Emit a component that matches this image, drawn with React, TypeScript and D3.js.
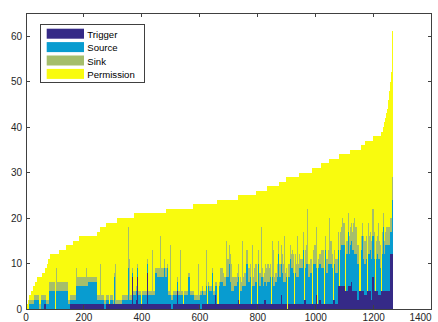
import React, { useEffect, useRef } from "react";
import * as d3 from "d3";

// series names and colours (MATLAB parula, 4 stacked series)
const seriesNames = ["Trigger", "Source", "Sink", "Permission"];
const seriesColors = ["#352a87", "#089cd0", "#a5be6b", "#f9fb0e"];

// run-length data: [value, number of bars], apps sorted by total
const totalRuns: [number, number][] = [
  [1, 5], [2, 6], [3, 6], [4, 6], [5, 7], [6, 9], [7, 17], [8, 8], [9, 7], [10, 6], [11, 5],
  [12, 32], [13, 23], [14, 23], [15, 23], [16, 60], [17, 12], [18, 22], [19, 36], [20, 58],
  [21, 110], [22, 95], [23, 83], [24, 72], [25, 61], [26, 39], [27, 42], [28, 23], [29, 46],
  [30, 44], [31, 32], [32, 27], [33, 34], [34, 38], [35, 37], [36, 16], [37, 26], [38, 28],
  [39, 7], [40, 5], [41, 3], [42, 3], [43, 2], [44, 3], [45, 2], [46, 2], [47, 2], [48, 1],
  [49, 2], [50, 2], [51, 1], [52, 2], [54, 1], [56, 1], [58, 1], [61, 2],
];

const triggerRuns: [number, number][] = [
  [0, 60], [1, 8], [0, 82], [1, 120], [0, 6], [1, 104], [2, 6], [1, 114], [0, 6], [1, 94],
  [0, 6], [1, 124], [2, 6], [1, 84], [2, 6], [1, 74], [0, 4], [1, 56], [2, 6], [1, 44],
  [2, 6], [1, 44], [2, 6], [1, 10], [5, 24], [4, 10], [5, 15], [4, 15], [2, 10], [4, 15],
  [3, 10], [4, 15], [2, 10], [4, 15], [3, 10], [4, 15], [4, 16], [12, 10],
];

const sourceRuns: [number, number][] = [
  [0, 10], [1, 18], [2, 17], [0, 5], [2, 12], [1, 17], [4, 21], [0, 4], [4, 39], [1, 28],
  [4, 41], [5, 34], [1, 54], [0, 30], [1, 40], [2, 81], [6, 35], [2, 23], [2, 69], [1, 22],
  [3, 12], [2, 8], [4, 10], [3, 15], [2, 10], [4, 15],
  [5, 10], [4, 8], [6, 12], [5, 8], [3, 8],
  [4, 12], [5, 8], [3, 10], [4, 16],
  [5, 10], [6, 8], [4, 10], [5, 10],
  [4, 10], [6, 8], [4, 12],
  [5, 12], [6, 10], [4, 6], [5, 8],
  [6, 12], [7, 10], [5, 8], [6, 14], [8, 10],
  [7, 12], [6, 10], [8, 14], [7, 10], [9, 8], [6, 7],
  [7, 10], [9, 9], [6, 8], [8, 12],
  [8, 12], [7, 10], [9, 14], [8, 10], [7, 10],
  [8, 12], [9, 12],
  [8, 10], [7, 8], [9, 12], [8, 10],
  [8, 12], [9, 10], [7, 12], [8, 14], [9, 12],
  [7, 10], [8, 10], [6, 8], [8, 12],
  [10, 16], [5, 7], [12, 3],
];

const sinkRuns: [number, number][] = [
  [0, 10], [1, 18], [1, 34], [1, 17], [2, 64], [1, 28], [2, 41], [1, 34], [1, 124], [1, 81],
  [2, 35], [1, 114], [1, 70],
  [3, 12], [2, 10], [4, 12], [3, 12],
  [2, 14], [3, 10], [2, 12], [3, 10],
  [3, 14], [2, 10], [4, 12], [3, 16], [2, 10], [4, 14], [3, 14], [2, 14],
  [3, 14], [4, 12], [2, 10], [3, 16], [4, 12], [3, 14], [2, 10], [4, 14], [3, 13],
  [3, 14], [4, 12], [2, 10], [4, 16], [3, 14], [5, 10], [3, 19],
  [4, 14], [5, 12], [3, 10], [4, 16], [6, 12], [4, 14], [3, 10], [5, 16], [4, 14], [6, 12],
  [4, 14], [5, 12], [3, 10], [4, 14],
  [3, 7], [5, 3],
];

// thin spikes: [first bar, bars, value]
const triggerSpikes: [number, number, number][] = [
  [365, 4, 7], [382, 4, 7], [417, 4, 8], [520, 4, 4], [650, 4, 3], [880, 4, 3], [1000, 4, 3],
  [1120, 4, 6], [1195, 4, 7],
];
const sourceSpikes: [number, number, number][] = [
  [304, 4, 6], [350, 4, 8], [446, 4, 7], [474, 4, 8], [486, 4, 8], [560, 4, 6], [640, 4, 7],
  [700, 4, 9], [760, 4, 9], [800, 4, 9], [870, 4, 11], [910, 4, 10], [955, 4, 12],
  [1030, 4, 12], [1110, 4, 12], [1160, 4, 12], [1230, 4, 14],
];
const sinkSpikes: [number, number, number][] = [
  [102, 4, 5], [171, 4, 4], [206, 4, 4], [255, 4, 8], [307, 4, 9], [353, 4, 9], [434, 4, 10],
  [463, 4, 9], [497, 4, 11], [532, 4, 10], [592, 4, 8], [620, 4, 8], [690, 4, 8], [705, 4, 6],
  [745, 4, 10], [780, 4, 9], [810, 4, 11], [850, 4, 8], [890, 4, 10], [935, 4, 9], [970, 4, 12],
  [1000, 4, 9], [1045, 4, 10], [1090, 4, 6], [1130, 4, 8], [1180, 4, 7], [1215, 4, 8],
];
// bars where only permission shows above trigger: [first bar, bars]
const gaps: [number, number][] = [
  [100, 4], [285, 4], [395, 4], [540, 4], [625, 4], [660, 4], [735, 4], [775, 4], [795, 4],
  [845, 4], [900, 4], [925, 4], [958, 4], [985, 4], [1004, 4], [1027, 4], [1060, 4],
  [1079, 4], [1100, 4], [1150, 4], [1175, 4], [1205, 4], [1225, 4],
];

const xTicks = [0, 200, 400, 600, 800, 1000, 1200, 1400];
const yTicks = [0, 10, 20, 30, 40, 50, 60];

const expand = (runs: [number, number][]) =>
  runs.flatMap(([v, n]) => Array(n).fill(v) as number[]);

const applySpikes = (arr: number[], spikes: [number, number, number][]) => {
  spikes.forEach(([s, n, v]) => {
    for (let i = s; i < s + n && i < arr.length; i++) arr[i] = v;
  });
};

const ChartSvg = () => {
  const ref = useRef<HTMLDivElement>(null);

  useEffect(() => {
    const W = 438;
    const H = 322;
    const left = 26;
    const right = 431.7;
    const top = 13.3;
    const bottom = 309;

    const total = expand(totalRuns);
    const n = total.length;
    const trig = expand(triggerRuns);
    const src = expand(sourceRuns);
    const sink = expand(sinkRuns);
    applySpikes(trig, triggerSpikes);
    applySpikes(src, sourceSpikes);
    applySpikes(sink, sinkSpikes);
    gaps.forEach(([s, len]) => {
      for (let i = s; i < s + len; i++) {
        src[i] = 0;
        sink[i] = 0;
      }
    });

    const rows = total.map((tot, i) => {
      const t = Math.min(trig[i] ?? 0, tot);
      const s = Math.min(src[i] ?? 0, tot - t);
      const k = Math.min(sink[i] ?? 0, tot - t - s);
      return { Trigger: t, Source: s, Sink: k, Permission: tot - t - s - k };
    });

    const stack = d3.stack<any>().keys(seriesNames)(rows);

    const x = d3.scaleLinear().domain([0, 1400]).range([left, right]);
    const y = d3.scaleLinear().domain([0, 65]).range([bottom, top]);

    const svg = d3
      .select(ref.current)
      .html("")
      .append("svg")
      .attr("width", W)
      .attr("height", H)
      .style("position", "absolute")
      .style("left", "0px")
      .style("top", "0px")
      .style("background", "#fff");

    // bars: merge neighbouring bars with the same extent into one rect
    stack.forEach((layer, si) => {
      const segs: { a: number; b: number; y0: number; y1: number }[] = [];
      for (let i = 0; i < n; i++) {
        const [y0, y1] = layer[i];
        const last = segs[segs.length - 1];
        if (last && last.b === i - 1 && last.y0 === y0 && last.y1 === y1) last.b = i;
        else segs.push({ a: i, b: i, y0, y1 });
      }
      svg
        .append("g")
        .attr("shape-rendering", "crispEdges")
        .selectAll("rect")
        .data(segs.filter((d) => d.y1 > d.y0))
        .join("rect")
        .attr("x", (d) => x(d.a + 0.5))
        .attr("width", (d) => x(d.b + 1.5) - x(d.a + 0.5))
        .attr("y", (d) => y(d.y1))
        .attr("height", (d) => y(d.y0) - y(d.y1))
        .attr("fill", seriesColors[si]);
    });

    // axes box and inward ticks
    const axisColor = "#404040";
    const frame = svg.append("g").attr("shape-rendering", "crispEdges").attr("stroke", axisColor);
    frame
      .append("rect")
      .attr("x", left)
      .attr("y", top)
      .attr("width", right - left)
      .attr("height", bottom - top)
      .attr("fill", "none");
    xTicks.forEach((t) => {
      frame.append("line").attr("x1", x(t)).attr("x2", x(t)).attr("y1", bottom).attr("y2", bottom - 4);
      frame.append("line").attr("x1", x(t)).attr("x2", x(t)).attr("y1", top).attr("y2", top + 4);
    });
    yTicks.forEach((t) => {
      frame.append("line").attr("x1", left).attr("x2", left + 4).attr("y1", y(t)).attr("y2", y(t));
      frame.append("line").attr("x1", right).attr("x2", right - 4).attr("y1", y(t)).attr("y2", y(t));
    });

    const font = "'Liberation Sans', Arial, sans-serif";
    const lastTick = xTicks[xTicks.length - 1];
    svg
      .append("g")
      .selectAll("text")
      .data(xTicks)
      .join("text")
      .attr("x", (d) => (d === lastTick ? right : x(d)))
      .attr("y", 321)
      .attr("text-anchor", (d) => (d === lastTick ? "end" : "middle"))
      .attr("font-family", font)
      .attr("font-size", 10)
      .attr("fill", "#262626")
      .text((d) => d);
    svg
      .append("g")
      .selectAll("text")
      .data(yTicks)
      .join("text")
      .attr("x", 22)
      .attr("y", (d) => y(d) + 3.5)
      .attr("text-anchor", "end")
      .attr("font-family", font)
      .attr("font-size", 10)
      .attr("fill", "#262626")
      .text((d) => d);

    // legend
    const lg = svg.append("g");
    lg.append("rect")
      .attr("x", 40.5)
      .attr("y", 24.5)
      .attr("width", 104)
      .attr("height", 57.5)
      .attr("fill", "#fff")
      .attr("stroke", axisColor)
      .attr("shape-rendering", "crispEdges");
    seriesNames.forEach((name, i) => {
      const base = 38 + i * 13.4;
      lg.append("rect")
        .attr("x", 46.7)
        .attr("y", base - 9.3)
        .attr("width", 37.3)
        .attr("height", 10)
        .attr("fill", seriesColors[i]);
      lg.append("text")
        .attr("x", 87.3)
        .attr("y", base)
        .attr("font-family", font)
        .attr("font-size", 9.6)
        .attr("fill", "#000")
        .text(name);
    });
  }, []);

  return <div ref={ref} />;
};

export default function App() {
  return <ChartSvg />;
}
